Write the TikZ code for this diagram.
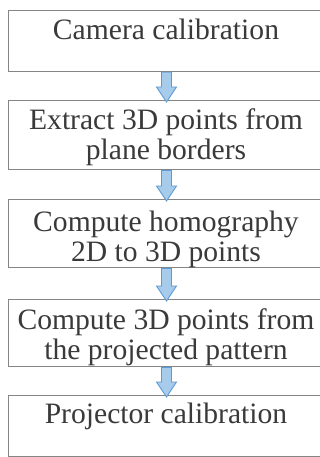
\documentclass[tikz,border=0pt]{standalone}
\usepackage{fontspec}
\setmainfont{Liberation Serif}
\newfontfamily\boxfont{Liberation Serif}
\usetikzlibrary{calc}
\definecolor{boxline}{HTML}{858585}
\definecolor{txt}{HTML}{3A3A3A}
\definecolor{arrfill}{HTML}{A7CBEA}
\definecolor{arrline}{HTML}{5B9BD5}
\tikzset{
  box/.style={draw=boxline, line width=1.3pt, rectangle, minimum width=317pt, anchor=north west, inner sep=0pt},
  lbl/.style={text=txt, font=\boxfont\fontsize{29.6}{30}\selectfont, anchor=base, inner sep=0pt},
  blockarr/.style={fill=arrfill, draw=arrline, line width=0.9pt, line join=miter}
}
\newcommand{\blockarrow}[2]{%
  \draw[blockarr] let \p1=(#1.south), \p2=(#2.north) in
    (166.5pt-5pt,\y1) -- (166.5pt-5pt,\y2+13pt) -- (166.5pt-10pt,\y2+13pt) --
    (166.5pt,\y2-2pt) -- (166.5pt+10pt,\y2+13pt) -- (166.5pt+5pt,\y2+13pt) --
    (166.5pt+5pt,\y1) -- cycle;}
\begin{document}
\begin{tikzpicture}[x=1pt,y=1pt]
\useasboundingbox (0,0) rectangle (320,-457);
\clip (0,0) rectangle (320,-457);
\fill[white] (0,0) rectangle (320,-457);
% boxes
\node[box, minimum height=61pt] (b1) at (8,-10) {};
\node[box, minimum height=69pt] (b2) at (8,-100) {};
\node[box, minimum height=68pt] (b3) at (8,-199) {};
\node[box, minimum height=67pt] (b4) at (8,-299) {};
\node[box, minimum height=61pt] (b5) at (8,-395) {};
% texts
\node[lbl] (t1) at (166,-40) {Camera calibration};
\node[lbl] (t2a) at (166,-130) {Extract 3D points from};
\node[lbl] (t2b) at (166,-160) {plane borders};
\node[lbl] (t3a) at (166,-231) {Compute homography};
\node[lbl] (t3b) at (166,-261) {2D to 3D points};
\node[lbl] (t4a) at (166,-329) {Compute 3D points from};
\node[lbl] (t4b) at (166,-359) {the projected pattern};
\node[lbl] (t5) at (166,-423) {Projector calibration};
% arrows
\blockarrow{b1}{b2}
\blockarrow{b2}{b3}
\blockarrow{b3}{b4}
\blockarrow{b4}{b5}
\end{tikzpicture}
\end{document}
